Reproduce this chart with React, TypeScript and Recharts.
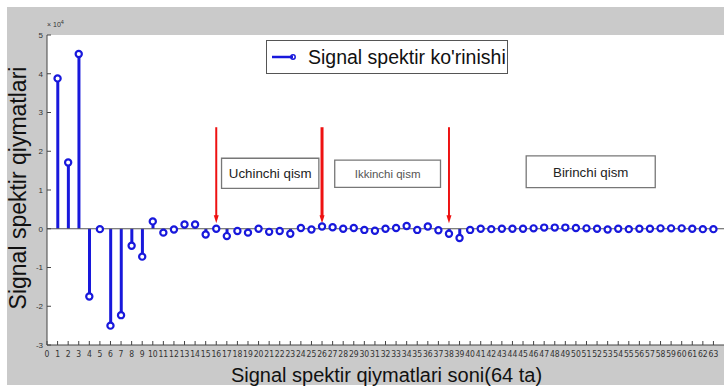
import React from 'react';
import {
  ComposedChart,
  Bar,
  Line,
  XAxis,
  YAxis,
  ReferenceLine,
  ReferenceArea,
  Legend,
  Label,
  CartesianGrid,
} from 'recharts';

// ---- data ----
const sampleIndex = [
  1, 2, 3, 4, 5, 6, 7, 8, 9, 10, 11, 12, 13, 14, 15, 16, 17, 18, 19, 20, 21,
  22, 23, 24, 25, 26, 27, 28, 29, 30, 31, 32, 33, 34, 35, 36, 37, 38, 39, 40,
  41, 42, 43, 44, 45, 46, 47, 48, 49, 50, 51, 52, 53, 54, 55, 56, 57, 58, 59,
  60, 61, 62, 63,
];
const spectrumValues = [
  38800, 17100, 45100, -17500, -100, -25000, -22300, -4400, -7200, 1900,
  -1000, -200, 1100, 1100, -1500, 0, -1900, -600, -1000, 0, -800, -600, -1300,
  200, -200, 600, 400, 0, 200, -300, -500, 0, 200, 700, -300, 600, -400, -1300,
  -2400, -300, 0, -100, 0, 0, 0, 100, 300, 300, 300, 200, 100, 0, -200, 0,
  -100, 0, 0, 100, 100, 100, 0, -100, -100,
];
const xTickLabels = [
  0, 1, 2, 3, 4, 5, 6, 7, 8, 9, 10, 11, 12, 13, 14, 15, 16, 17, 18, 19, 20,
  21, 22, 23, 24, 25, 26, 27, 28, 29, 30, 31, 32, 33, 34, 35, 36, 37, 38, 39,
  40, 41, 42, 43, 44, 45, 46, 47, 48, 49, 50, 51, 52, 53, 54, 55, 56, 57, 58,
  59, 60, 61, 62, 63,
];
const topTicks = [...xTickLabels, 64];
const yTicks = [-30000, -20000, -10000, 0, 10000, 20000, 30000, 40000, 50000];

const arrowX = [16, 26, 38];
const arrowWidths = [2, 3, 2];
const arrowTop = 26200;
const arrowBottom = 1400;

const boxLabels = ['Uchinchi qism', 'Ikkinchi qism', 'Birinchi qism'];
const boxX1 = [16.5, 27.2, 45.3];
const boxX2 = [25.7, 37.2, 57.5];
const boxY1 = [10400, 10700, 10600];
const boxY2 = [18200, 17700, 18800];

const legendLabel = "Signal spektir ko'rinishi";
const xTitle = 'Signal spektir qiymatlari soni(64 ta)';
const yTitle = 'Signal spektir qiymatlari';

const data = sampleIndex.map((x, i) => ({ x, v: spectrumValues[i] }));

// ---- style ----
const BLUE = '#1818dc';
const RED = '#ee1111';
const FONT = "'Liberation Sans', Arial, sans-serif";
const NARROW = "'Liberation Sans Narrow', 'DejaVu Sans Condensed', 'Liberation Sans', sans-serif";

const ArrowShape = (props: any) => {
  const { x1, y1, x2, y2, stroke, strokeWidth } = props;
  const w = Number(strokeWidth) || 2;
  return (
    <g>
      <line x1={x1} y1={y1} x2={x2} y2={y2 - 6} stroke={stroke} strokeWidth={w} />
      <polygon
        points={`${x2 - 2.5},${y2 - 8} ${x2 + 2.5},${y2 - 8} ${x2},${y2}`}
        fill={stroke}
      />
    </g>
  );
};

const LegendBox = () => (
  <div
    style={{
      boxSizing: 'border-box',
      width: 242,
      height: 34,
      border: '1px solid #555',
      background: '#fff',
      display: 'flex',
      alignItems: 'center',
      paddingLeft: 4,
      fontFamily: FONT,
      fontSize: 19.5,
      color: '#111',
      whiteSpace: 'nowrap',
    }}
  >
    <svg width={26} height={10} style={{ marginRight: 11 }}>
      <line x1={1} y1={5} x2={22} y2={5} stroke={BLUE} strokeWidth={2.5} />
      <circle cx={22} cy={5} r={2.2} fill="none" stroke={BLUE} strokeWidth={1.5} />
    </svg>
    <span>{legendLabel}</span>
  </div>
);

export default function App() {
  return (
    <div
      style={{
        position: 'absolute',
        left: 0,
        top: 0,
        width: 724,
        height: 389,
        background: '#fff',
        overflow: 'hidden',
      }}
    >
      <div
        style={{
          position: 'absolute',
          left: 7,
          top: 7,
          width: 717,
          height: 378,
          background: '#cacaca',
        }}
      />
      <div style={{ position: 'absolute', left: 0, top: 0 }}>
        <ComposedChart
          width={724}
          height={389}
          data={data}
          margin={{ top: 35, right: 0, bottom: 4, left: 7 }}
        >
          <CartesianGrid horizontal={false} vertical={false} fill="#fff" stroke="none" />
          <XAxis
            dataKey="x"
            type="number"
            domain={[0, 64]}
            ticks={xTickLabels}
            interval={0}
            height={40}
            tickSize={-4}
            tickMargin={10}
            stroke="#444"
            tick={{ fontSize: 8.5, fill: '#333', fontFamily: NARROW }}
            allowDataOverflow
          >
            <Label
              content={(p: any) => {
                const vb = p.viewBox || {};
                return (
                  <text
                    x={vb.x + vb.width / 2 + 1}
                    y={vb.y + 37}
                    textAnchor="middle"
                    fontFamily={FONT}
                    fontSize={20}
                    fill="#111"
                  >
                    {xTitle}
                  </text>
                );
              }}
            />
          </XAxis>
          <XAxis
            xAxisId="top"
            orientation="top"
            type="number"
            domain={[0, 64]}
            ticks={topTicks}
            interval={0}
            height={0}
            tickSize={-4}
            tickFormatter={() => ''}
            stroke="#444"
            allowDataOverflow
          />
          <YAxis
            type="number"
            domain={[-30000, 50000]}
            ticks={yTicks}
            interval={0}
            width={40}
            tickSize={-4}
            tickMargin={8}
            stroke="#444"
            tickFormatter={(v: number) => String(v / 10000)}
            tick={{ fontSize: 8, fill: '#333', fontFamily: FONT }}
            allowDataOverflow
          >
            <Label
              content={(p: any) => {
                const vb = p.viewBox || {};
                const cx = vb.x + 11;
                const cy = vb.y + vb.height / 2 - 2;
                return (
                  <text
                    x={cx}
                    y={cy}
                    transform={`rotate(-90 ${cx} ${cy})`}
                    textAnchor="middle"
                    dominantBaseline="central"
                    fontFamily={FONT}
                    fontSize={23}
                    fill="#111"
                  >
                    {yTitle}
                  </text>
                );
              }}
            />
            <Label
              content={(p: any) => {
                const vb = p.viewBox || {};
                return (
                  <text x={vb.x + 40} y={vb.y - 8} fontFamily={FONT} fontSize={7} fill="#333">
                    × 10
                    <tspan dy={-3} fontSize={5.5}>
                      4
                    </tspan>
                  </text>
                );
              }}
            />
          </YAxis>
          <YAxis
            yAxisId="right"
            orientation="right"
            type="number"
            domain={[-30000, 50000]}
            ticks={yTicks}
            interval={0}
            width={0}
            tickSize={-4}
            tickFormatter={() => ''}
            stroke="#444"
            allowDataOverflow
          />
          <ReferenceLine y={0} stroke="#555" strokeWidth={1} />
          {arrowX.map((x, i) => (
            <ReferenceLine
              key={`arrow-${i}`}
              segment={[
                { x, y: arrowTop },
                { x, y: arrowBottom },
              ]}
              stroke={RED}
              strokeWidth={arrowWidths[i]}
              shape={ArrowShape}
            />
          ))}
          {boxLabels.map((t, i) => (
            <ReferenceArea
              key={`box-${i}`}
              x1={boxX1[i]}
              x2={boxX2[i]}
              y1={boxY1[i]}
              y2={boxY2[i]}
              fill="#fff"
              fillOpacity={1}
              stroke="#777"
              strokeWidth={1.3}
              label={{
                value: t,
                position: 'center',
                fontFamily: FONT,
                fontSize: i === 1 ? 11.5 : 13.3,
                fill: i === 1 ? '#555' : '#222',
              }}
            />
          ))}
          <Bar dataKey="v" barSize={3} fill={BLUE} isAnimationActive={false} />
          <Line
            dataKey="v"
            stroke="none"
            isAnimationActive={false}
            dot={{ r: 3.1, fill: '#fff', stroke: BLUE, strokeWidth: 2.2 }}
            activeDot={false}
          />
          <Legend
            layout="horizontal"
            verticalAlign="middle"
            align="center"
            wrapperStyle={{ position: 'absolute', left: 266, top: 40, width: 242, height: 34 }}
            content={() => <LegendBox />}
          />
        </ComposedChart>
      </div>
    </div>
  );
}
